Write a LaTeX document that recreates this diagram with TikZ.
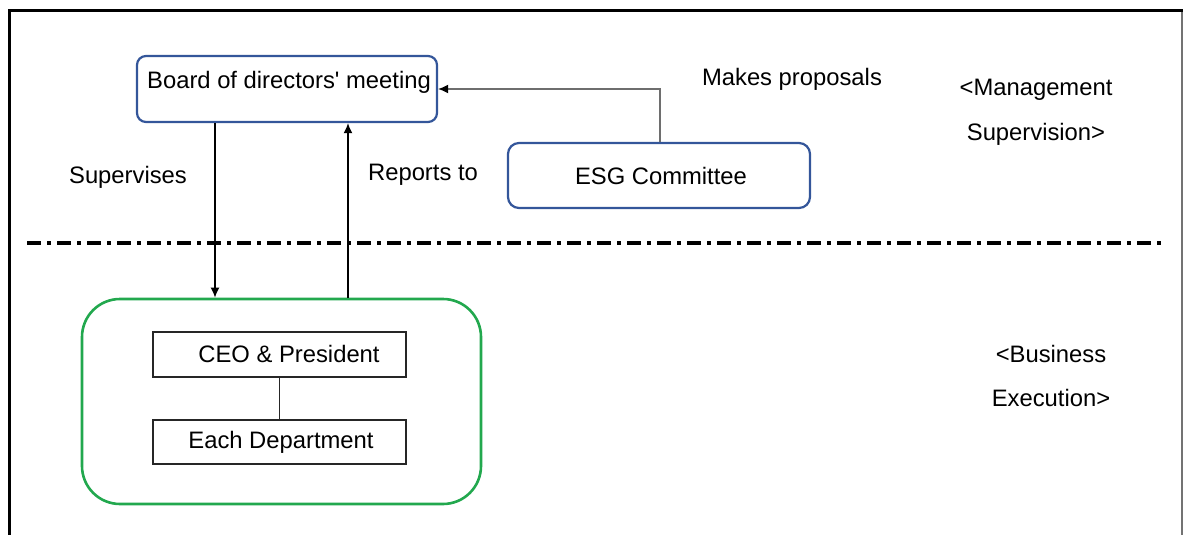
\documentclass[tikz,border=0pt]{standalone}
\usepackage{fontspec}
\setmainfont{Liberation Sans}
\newfontfamily\aposfont{Liberation Sans}[Ligatures=ResetAll]
\usetikzlibrary{arrows.meta}
\definecolor{boxblue}{HTML}{34569A}
\definecolor{boxgreen}{HTML}{22A84E}
\definecolor{elbowgrey}{HTML}{6E6E6E}
\tikzset{
  txt/.style={font=\fontsize{11.9pt}{14pt}\selectfont, inner sep=0pt, text=black},
  bluebox/.style={draw=boxblue, line width=1.1pt, rounded corners=4.5pt, inner sep=0pt},
  greenbox/.style={draw=boxgreen, line width=1.3pt, rounded corners=19pt, inner sep=0pt},
  plainbox/.style={draw=black!85, line width=0.75pt, inner sep=0pt},
  arr/.style={line width=0.8pt, -{Latex[length=5pt,width=4.5pt]}},
  dashdotline/.style={line width=1.6pt, dash pattern=on 7pt off 3pt on 2pt off 3pt},
}
\begin{document}
\begin{tikzpicture}[x=0.5pt, y=-0.5pt]
\useasboundingbox (0,0) rectangle (1183,535);
% frame
\coordinate (fbl) at (9,535);
\coordinate (ftl) at (9,11);
\coordinate (ftr) at (1183,11);
\coordinate (frt) at (1182,11);
\coordinate (frb) at (1182,535);
\draw[black!55, line width=0.6pt] (frt) -- (frb);
\draw[black, line width=1.5pt] (fbl) -- (ftl) -- (ftr);
% separator
\coordinate (sepl) at (27,243);
\coordinate (sepr) at (1164,243);
\draw[dashdotline] (sepl) -- (sepr);
% boxes
\node[bluebox, minimum width=150pt, minimum height=33pt] (board) at (287,89) {};
\node[txt] (boardtxt) at (289,82) {Board of directors{\aposfont'} meeting};
\node[bluebox, rounded corners=5.5pt, minimum width=151pt, minimum height=32.5pt] (esg) at (659,175.5) {};
\node[txt] (esgtxt) at (661,176) {ESG Committee};
\node[greenbox, minimum width=199.5pt, minimum height=102.5pt] (exec) at (281.5,401.5) {};
\node[plainbox, minimum width=126.5pt, minimum height=22.5pt] (ceo) at (279.5,354.5) {};
\node[txt] (ceotxt) at (289,354) {CEO \& President};
\node[plainbox, minimum width=126.5pt, minimum height=22pt] (dept) at (279.5,442) {};
\node[txt] (depttxt) at (281,442) {Each Department};
% labels
\node[txt] (sup) at (128,177) {Supervises};
\node[txt] (rep) at (423,175) {Reports to};
\node[txt] (prop) at (792,79) {Makes proposals};
\node[txt] (mgmt1) at (1036,90) {<Management};
\node[txt] (mgmt2) at (1036,134) {Supervision>};
\node[txt] (bus1) at (1051,354) {<Business};
\node[txt] (bus2) at (1051,398) {Execution>};
% connectors
\draw[arr] (board.south -| 215,0) -- (exec.north -| 215,0);
\draw[arr] (exec.north -| 348,0) -- (board.south -| 348,0);
\draw[elbowgrey, line width=0.8pt, -{Latex[length=5pt,width=4.5pt,black]}] (esg.north -| 660,0) |- (board.east |- 0,89);
\draw[black!85, line width=0.75pt] (ceo.south) -- (dept.north);
\end{tikzpicture}
\end{document}
